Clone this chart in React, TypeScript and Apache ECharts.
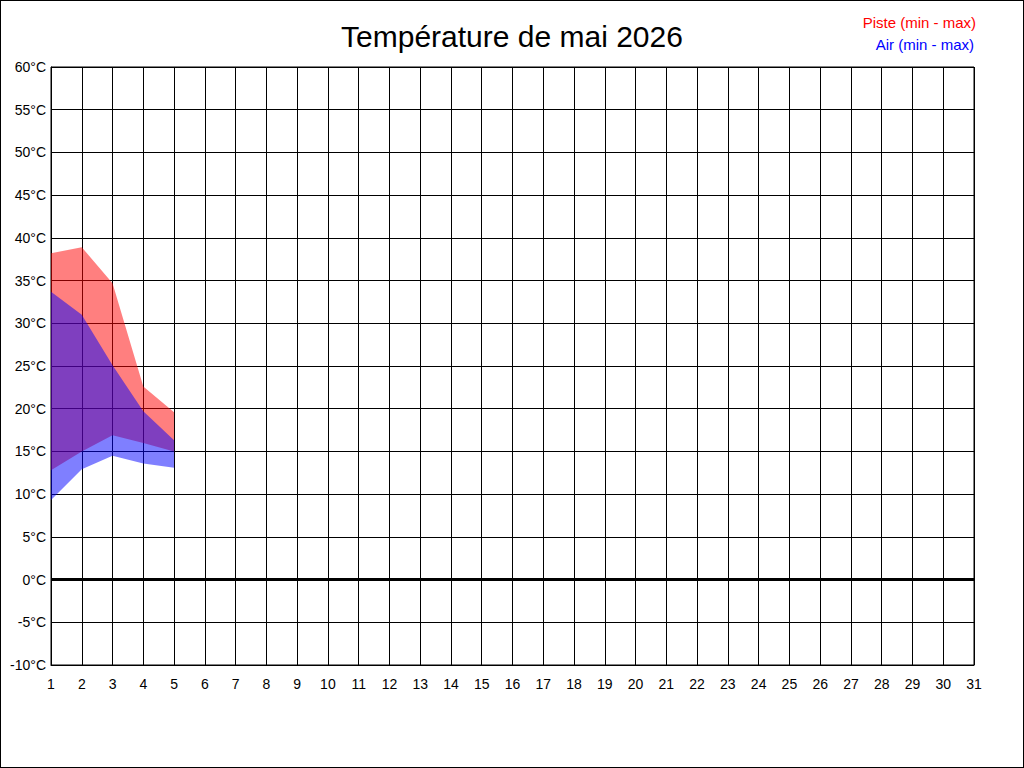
import React, { useEffect, useRef } from "react";
import * as echarts from "echarts";

const days: string[] = Array.from({ length: 31 }, (_, i) => String(i + 1));
const pisteMin: number[] = [12.8, 15.0, 16.9, 16.0, 15.0];
const pisteMax: number[] = [38.2, 38.9, 34.7, 22.6, 19.6];
const airMin: number[] = [9.3, 12.9, 14.5, 13.6, 13.1];
const airMax: number[] = [33.7, 31.0, 25.1, 19.7, 16.3];

const titleText = "Température de mai 2026";
const legendPiste = "Piste (min - max)";
const legendAir = "Air (min - max)";

export default function App() {
  const ref = useRef<HTMLDivElement>(null);
  useEffect(() => {
    if (!ref.current) return;
    const chart = echarts.init(ref.current, null, { renderer: "svg" });
    const diff = (a: number[], b: number[]) => a.map((v, i) => +(v - b[i]).toFixed(2));
    const font = "Arial, 'Liberation Sans', sans-serif";
    chart.setOption({
      animation: false,
      backgroundColor: "#ffffff",
      title: {
        text: titleText,
        left: "center",
        top: 15,
        textStyle: { fontSize: 30, fontWeight: "normal", color: "#000", fontFamily: font },
      },
      graphic: [
        {
          type: "text",
          right: 47,
          top: 14,
          style: { text: legendPiste, fill: "#ff0000", font: `15px ${font}`, textAlign: "right" },
        },
        {
          type: "text",
          right: 49,
          top: 36,
          style: { text: legendAir, fill: "#0000ff", font: `15px ${font}`, textAlign: "right" },
        },
      ],
      grid: {
        left: 50,
        right: 49,
        top: 66,
        bottom: 102,
        show: true,
        borderColor: "#000",
        borderWidth: 1,
        backgroundColor: "transparent",
      },
      xAxis: {
        type: "category",
        data: days,
        boundaryGap: false,
        axisLine: { show: true, onZero: false, lineStyle: { color: "#000", width: 1 } },
        axisTick: { show: false },
        splitLine: { show: true, interval: 0, lineStyle: { color: "#000", width: 1 } },
        axisLabel: { color: "#000", fontSize: 14, fontFamily: font, margin: 12, interval: 0 },
      },
      yAxis: {
        type: "value",
        min: -10,
        max: 60,
        interval: 5,
        axisLine: { show: true, lineStyle: { color: "#000", width: 1 } },
        axisTick: { show: false },
        splitLine: { show: true, lineStyle: { color: "#000", width: 1 } },
        axisLabel: { color: "#000", fontSize: 14, fontFamily: font, margin: 5, formatter: "{value}°C" },
      },
      series: [
        {
          type: "line",
          name: "pisteBase",
          stack: "piste",
          data: pisteMin,
          symbol: "none",
          lineStyle: { opacity: 0 },
          silent: true,
          markLine: {
            silent: true,
            symbol: "none",
            label: { show: false },
            lineStyle: { color: "#000", width: 3, type: "solid" },
            data: [{ yAxis: 0 }],
          },
        },
        {
          type: "line",
          name: legendPiste,
          stack: "piste",
          data: diff(pisteMax, pisteMin),
          symbol: "none",
          lineStyle: { opacity: 0 },
          areaStyle: { color: "rgba(255,0,0,0.5)", opacity: 1 },
          silent: true,
        },
        {
          type: "line",
          name: "airBase",
          stack: "air",
          data: airMin,
          symbol: "none",
          lineStyle: { opacity: 0 },
          silent: true,
        },
        {
          type: "line",
          name: legendAir,
          stack: "air",
          data: diff(airMax, airMin),
          symbol: "none",
          lineStyle: { opacity: 0 },
          areaStyle: { color: "rgba(0,0,255,0.5)", opacity: 1 },
          silent: true,
        },
      ],
    });
    return () => chart.dispose();
  }, []);
  return (
    <div
      style={{
        position: "absolute",
        left: 0,
        top: 0,
        width: 1024,
        height: 768,
        border: "1px solid #000",
        boxSizing: "border-box",
        background: "#fff",
      }}
    >
      <div ref={ref} style={{ width: 1022, height: 766 }} />
    </div>
  );
}
